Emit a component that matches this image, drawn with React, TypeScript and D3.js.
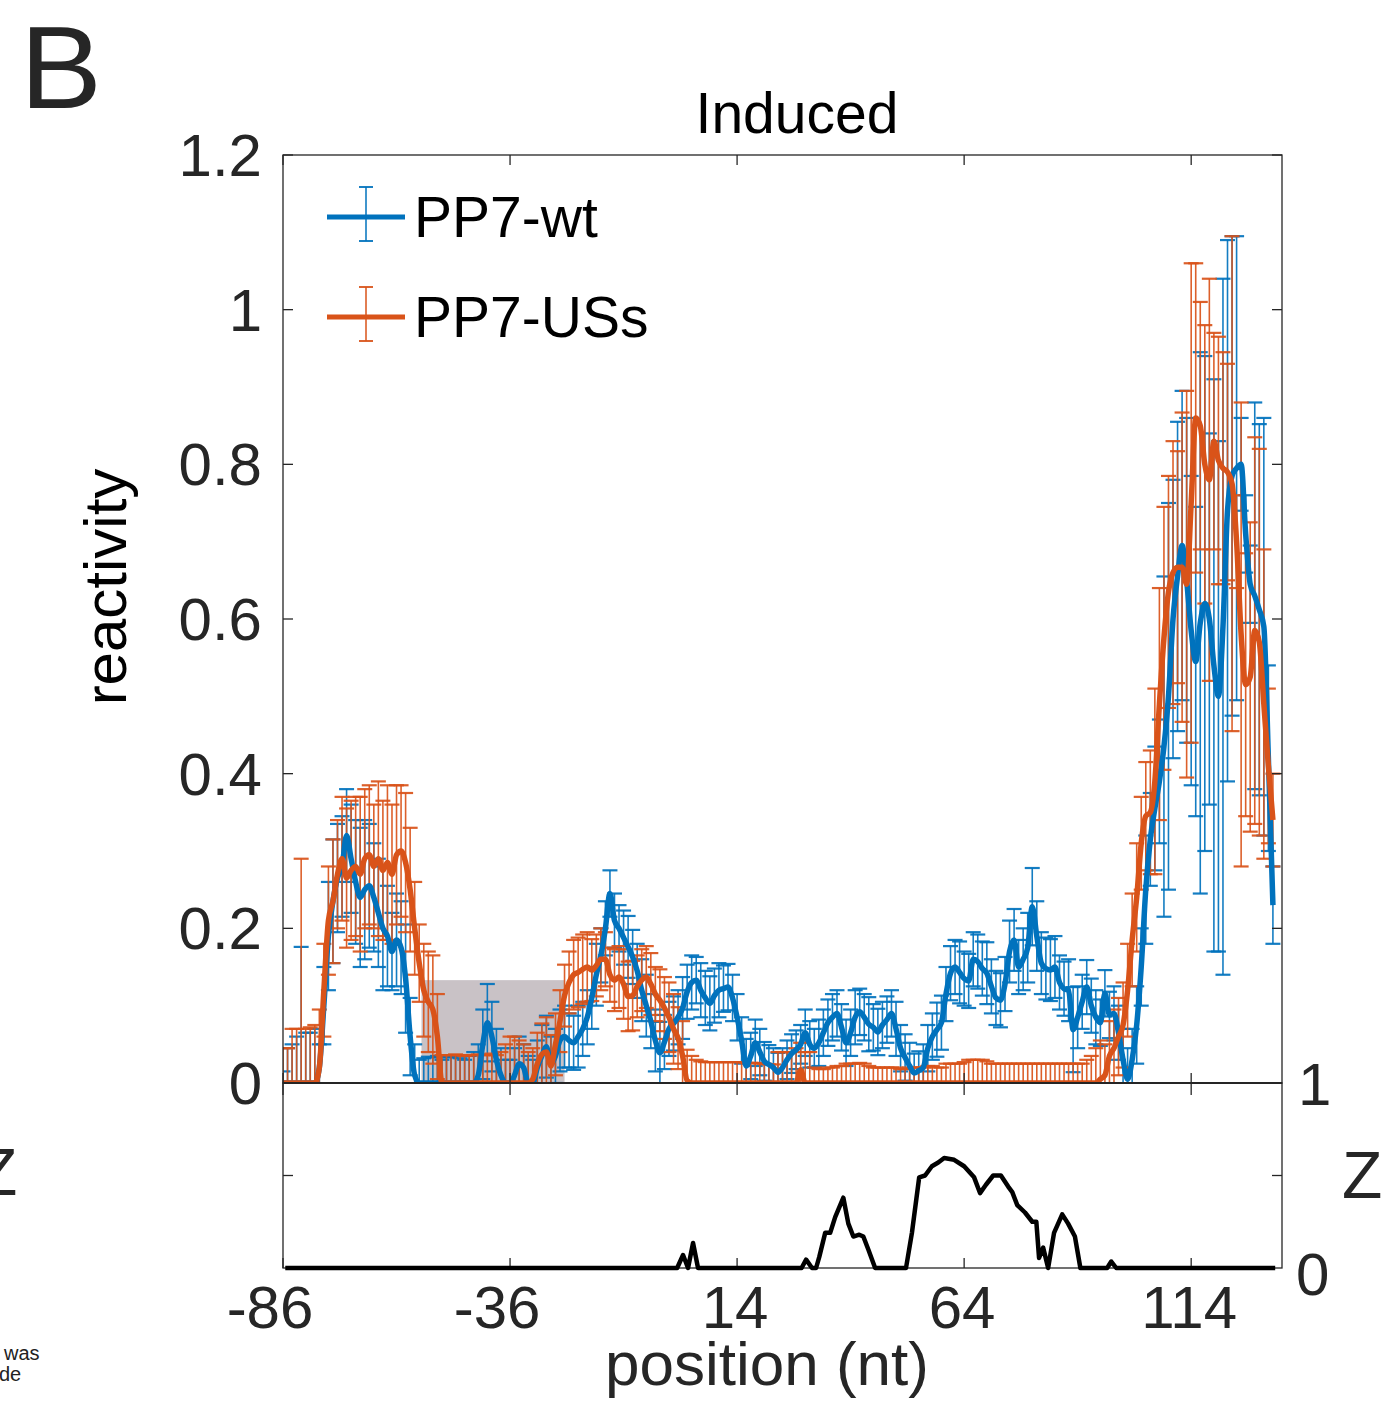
import React from "react";
import * as d3 from "d3";

// ---------- data ----------
const positions = d3.range(-86, 133); // nucleotide positions -86..132
const xTicks = [-86, -36, 14, 64, 114];
const yTicks = [0, 0.2, 0.4, 0.6, 0.8, 1, 1.2];
const yTickLabels = ["0", "0.2", "0.4", "0.6", "0.8", "1", "1.2"];

// PP7-wt smoothed reactivity
const wtLine = [
  0, 0, 0, 0, 0, 0, 0, 0,
  0.02, 0.1, 0.19, 0.235, 0.265, 0.28, 0.32, 0.29, 0.26, 0.24, 0.25, 0.255, 0.24, 0.22, 0.2, 0.19, 0.17, 0.185, 0.175, 0.135, 0.06, 0.01,
  0, 0, 0, 0, 0, 0, 0, 0, 0, 0, 0, 0, 0,
  0.01, 0.05, 0.078, 0.06, 0.03, 0.01, 0, 0, 0.01, 0.025, 0.02, 0,
  0, 0.02, 0.035, 0.047, 0.025, 0.035, 0.055, 0.06, 0.055, 0.052, 0.06,
  0.07, 0.085, 0.11, 0.14, 0.165, 0.2, 0.245, 0.21, 0.2, 0.188, 0.176, 0.163, 0.145, 0.12, 0.1, 0.08,
  0.055, 0.039, 0.053, 0.07, 0.077, 0.085, 0.097, 0.118,
  0.13, 0.133, 0.12, 0.11, 0.103, 0.113, 0.12, 0.122, 0.124, 0.11,
  0.085, 0.055, 0.022, 0.035, 0.052, 0.04, 0.028, 0.024, 0.02, 0.014,
  0.02, 0.03, 0.038, 0.043, 0.05, 0.065, 0.05, 0.045, 0.052, 0.065,
  0.078, 0.085, 0.09,
  0.072, 0.052, 0.065, 0.085, 0.092, 0.085, 0.076, 0.072, 0.066, 0.075,
  0.082, 0.09, 0.07, 0.045, 0.033, 0.022, 0.013, 0.016, 0.02, 0.045,
  0.06, 0.069, 0.078, 0.115, 0.142, 0.15, 0.143, 0.135, 0.132, 0.16,
  0.157, 0.148, 0.142, 0.125, 0.11, 0.107, 0.128, 0.17, 0.185, 0.15,
  0.16, 0.175, 0.228, 0.19, 0.155, 0.148, 0.146, 0.15, 0.13, 0.122,
  0.12, 0.069, 0.085, 0.105, 0.124, 0.1, 0.085, 0.078, 0.116, 0.088, 0.09, 0.065, 0.03,
  0.005, 0.03, 0.075, 0.15, 0.25, 0.315, 0.355, 0.39, 0.435, 0.5,
  0.6, 0.655, 0.695, 0.65, 0.585, 0.545, 0.595, 0.62, 0.6, 0.54,
  0.5, 0.59, 0.74, 0.785, 0.795, 0.8, 0.71, 0.645, 0.63, 0.612,
  0.59, 0.42, 0.23,
];

// PP7-wt error (half width)
const wtErr = [
  0.015, 0.045, 0.05, 0.06, 0.176, 0.065, 0.065, 0.07,
  0.03, 0.05, 0.07, 0.08, 0.07, 0.065, 0.06, 0.07, 0.08, 0.09, 0.09, 0.08, 0.07, 0.07, 0.08, 0.065, 0.05, 0.06, 0.06, 0.07, 0.05, 0.04,
  0.03, 0.032, 0.034, 0.033, 0.035, 0.03, 0.033, 0.034, 0.035, 0.032, 0.03, 0.035, 0.04,
  0.04, 0.045, 0.05, 0.045, 0.04, 0.035, 0.03, 0.03, 0.035, 0.035, 0.03, 0.035,
  0.03, 0.035, 0.04, 0.04, 0.035, 0.035, 0.04, 0.04, 0.035, 0.035, 0.04,
  0.035, 0.035, 0.04, 0.04, 0.035, 0.035, 0.03, 0.035, 0.03, 0.035, 0.04, 0.035, 0.035, 0.04, 0.04, 0.035,
  0.04, 0.04, 0.035, 0.035, 0.035, 0.035, 0.04, 0.035,
  0.035, 0.03, 0.035, 0.035, 0.035, 0.035, 0.035, 0.03, 0.03, 0.03,
  0.03, 0.03, 0.035, 0.03, 0.03, 0.03, 0.025, 0.025, 0.025, 0.025,
  0.025, 0.025, 0.025, 0.025, 0.025, 0.03, 0.03, 0.025, 0.03, 0.03,
  0.03, 0.03, 0.03,
  0.03, 0.03, 0.03, 0.035, 0.03, 0.03, 0.035, 0.03, 0.03, 0.03,
  0.03, 0.03, 0.035, 0.03, 0.03, 0.03, 0.025, 0.025, 0.03, 0.03,
  0.03, 0.035, 0.035, 0.035, 0.035, 0.035, 0.04, 0.035, 0.035, 0.035,
  0.035, 0.035, 0.04, 0.035, 0.035, 0.035, 0.035, 0.04, 0.04, 0.035,
  0.04, 0.045, 0.05, 0.045, 0.04, 0.04, 0.04, 0.04, 0.035, 0.035,
  0.04, 0.055, 0.04, 0.035, 0.035, 0.035, 0.035, 0.03, 0.03, 0.03, 0.035, 0.035, 0.04,
  0.04, 0.04, 0.05, 0.05, 0.07, 0.06, 0.08, 0.08, 0.22, 0.25,
  0.18, 0.2, 0.2, 0.21, 0.2, 0.2, 0.35, 0.32, 0.24, 0.37,
  0.33, 0.45, 0.35, 0.31, 0.3, 0.06, 0.05, 0.05, 0.25, 0.24,
  0.27, 0.12, 0.05,
];

// PP7-USs smoothed reactivity
const ussLine = [
  0, 0, 0, 0, 0, 0, 0, 0,
  0.02, 0.12, 0.21, 0.235, 0.27, 0.29, 0.265, 0.275, 0.28, 0.27, 0.29, 0.295, 0.28, 0.29, 0.275, 0.285, 0.27, 0.295, 0.3, 0.285, 0.25, 0.2, 0.155, 0.12, 0.105, 0.095, 0.06, 0,
  0, 0, 0, 0, 0, 0, 0, 0, 0, 0, 0, 0, 0, 0, 0, 0, 0, 0, 0,
  0.005, 0.025, 0.037, 0.04, 0.022, 0.05, 0.08, 0.113, 0.13, 0.14, 0.143,
  0.147, 0.15, 0.146, 0.152, 0.16, 0.16, 0.14, 0.133, 0.137, 0.128,
  0.112, 0.113, 0.125, 0.133, 0.137, 0.128, 0.115, 0.107, 0.097, 0.085,
  0.07, 0.058, 0.035, 0.003,
  0, 0, 0, 0, 0, 0, 0, 0, 0, 0,
  0, 0, 0, 0, 0, 0, 0, 0, 0, 0,
  0, 0, 0, 0, 0.017, 0, 0, 0, 0, 0,
  0, 0, 0, 0, 0, 0, 0, 0, 0, 0,
  0, 0, 0, 0, 0, 0, 0, 0, 0, 0,
  0, 0, 0, 0, 0, 0, 0, 0, 0, 0,
  0, 0, 0, 0, 0, 0, 0, 0, 0, 0,
  0, 0, 0, 0, 0, 0, 0, 0, 0, 0,
  0, 0, 0, 0, 0, 0, 0, 0, 0, 0,
  0.005,
  0.01, 0.035, 0.045, 0.06, 0.075, 0.12, 0.185, 0.24, 0.31, 0.345,
  0.35, 0.39, 0.49, 0.575, 0.635, 0.66, 0.667, 0.667, 0.645, 0.75,
  0.86, 0.85, 0.8, 0.78, 0.83, 0.805, 0.795, 0.79, 0.775, 0.7,
  0.58, 0.515, 0.525, 0.585, 0.57, 0.49, 0.41, 0.34,
];

// PP7-USs error (half width)
const ussErr = [
  0.045, 0.045, 0.07, 0.07, 0.29, 0.07, 0.072, 0.075,
  0.075, 0.06, 0.07, 0.08, 0.07, 0.08, 0.09, 0.09, 0.09, 0.1,
  0.09, 0.09, 0.08, 0.1, 0.09, 0.1, 0.09, 0.09, 0.085, 0.09,
  0.08, 0.06, 0.05, 0.06, 0.065, 0.07, 0.055, 0.036,
  0.036, 0.036, 0.037, 0.036, 0.035, 0.036, 0.036, 0.037, 0.036, 0.036, 0.038, 0.036, 0.04, 0.05, 0.06, 0.06, 0.055, 0.05, 0.04,
  0.04, 0.04, 0.04, 0.045, 0.04, 0.04, 0.04, 0.04, 0.04, 0.045, 0.045,
  0.045, 0.045, 0.04, 0.04, 0.04, 0.035, 0.035, 0.04, 0.04, 0.045,
  0.045, 0.045, 0.04, 0.04, 0.04, 0.04, 0.035, 0.04, 0.04, 0.045,
  0.045, 0.04, 0.045, 0.04,
  0.035, 0.03, 0.028, 0.027, 0.027, 0.027, 0.027, 0.027, 0.027, 0.027,
  0.027, 0.027, 0.026, 0.026, 0.026, 0.025, 0.025, 0.024, 0.024, 0.04,
  0.04, 0.04, 0.04, 0.045, 0.035, 0.04, 0.04, 0.02, 0.018, 0.018,
  0.02, 0.02, 0.022, 0.022, 0.025, 0.025, 0.025, 0.026, 0.025, 0.022,
  0.02, 0.02, 0.02, 0.02, 0.02, 0.02, 0.018, 0.018, 0.02, 0.02,
  0.02, 0.02, 0.022, 0.022, 0.02, 0.02, 0.025, 0.025, 0.025, 0.025,
  0.027, 0.03, 0.03, 0.03, 0.03, 0.028, 0.025, 0.025, 0.025, 0.025,
  0.025, 0.025, 0.025, 0.025, 0.025, 0.025, 0.025, 0.025, 0.025, 0.025,
  0.025, 0.025, 0.025, 0.025, 0.025, 0.025, 0.025, 0.03, 0.035, 0.045,
  0.05,
  0.04, 0.045, 0.05, 0.05, 0.055, 0.06, 0.06, 0.07, 0.06, 0.07,
  0.08, 0.12, 0.15, 0.17, 0.15, 0.17, 0.15, 0.2, 0.25, 0.31,
  0.2, 0.16, 0.18, 0.26, 0.14, 0.16, 0.15, 0.14, 0.32, 0.06,
  0.3, 0.17, 0.2, 0.25, 0.25, 0.2, 0.1, 0.06,
];

// Z score trace (breakpoints: position, value)
const zPos = [
  -85.5, 0.8, 2.1, 3.2, 4.3, 5.4, 28.2, 29.2, 30.5, 31.4, 32.1, 33.4, 34.5, 35.6, 37.4, 38.5, 39.6, 40.9, 41.8, 42.9, 44.4,
  51.2, 52.5, 54.1, 55.4, 56.9, 58.3, 59.6, 61.8, 64, 66.2, 67.5, 68.8, 70.4, 72.1, 73.7, 74.6, 75.7, 77.4, 79, 79.9,
  80.5, 81.4, 82.5, 83.8, 85.6, 86.9, 88.4, 89.6, 95.5, 96.4, 97.5, 132.5,
];
const zVal = [
  0, 0, 0.07, 0, 0.135, 0, 0, 0.045, 0, 0, 0.06, 0.19, 0.19, 0.275, 0.38, 0.24, 0.17, 0.18, 0.17, 0.1, 0,
  0, 0.19, 0.49, 0.5, 0.55, 0.57, 0.595, 0.585, 0.55, 0.49, 0.405, 0.45, 0.5, 0.5, 0.44, 0.41, 0.34, 0.3, 0.25, 0.25,
  0.054, 0.11, 0, 0.19, 0.29, 0.24, 0.17, 0, 0, 0.035, 0, 0,
];

// shaded region (positions) and height
const shadeRange = [-55.5, -24];
const shadeTop = 0.133;

const series = [
  { name: "PP7-wt", color: "#0072BD", line: wtLine, err: wtErr },
  { name: "PP7-USs", color: "#D95319", line: ussLine, err: ussErr },
];

const FONT = "'Liberation Sans', Arial, Helvetica, sans-serif";
const AX = "#262626";

export default function App() {
  const W = 1393;
  const H = 1404;
  const L = 283, R = 1282, T = 155, B = 1083, ZB = 1268;
  const x = d3.scaleLinear().domain([-86, 134]).range([L, R]);
  const y = d3.scaleLinear().domain([0, 1.2]).range([B, T]);
  const yz = d3.scaleLinear().domain([0, 1]).range([ZB, B]);

  const mkLine = (vals: number[]) =>
    d3
      .line<number>()
      .x((_, i) => x(positions[i]))
      .y((d) => y(d))
      .curve(d3.curveMonotoneX)(vals) || "";

  const zPath =
    d3
      .line<number>()
      .x((_, i) => x(zPos[i]))
      .y((d) => yz(d))(zVal) || "";

  const cap = 7.5;
  const tickLen = 10;

  return (
    <div style={{ position: "absolute", left: 0, top: 0, width: W, height: H, background: "#fff" }}>
      <svg width={W} height={H} viewBox={`0 0 ${W} ${H}`} style={{ display: "block" }}>
        <defs>
          <clipPath id="mainClip">
            <rect x={L} y={T} width={R - L} height={B - T} />
          </clipPath>
        </defs>
        <rect x={0} y={0} width={W} height={H} fill="#fff" />

        {/* panel letter and neighbour fragments */}
        <text x={20} y={108} fontFamily={FONT} fontSize={116} fill={AX} transform="translate(20,0) scale(1.06,1) translate(-20,0)">B</text>
        <text x={-23} y={1195} fontFamily={FONT} fontSize={66} fill={AX}>Z</text>
        <text x={1342} y={1198} fontFamily={FONT} fontSize={66} fill={AX}>Z</text>
        <text x={4} y={1360} fontFamily={FONT} fontSize={20} fill="#222">was</text>
        <text x={-1} y={1381} fontFamily={FONT} fontSize={20} fill="#222">de</text>

        {/* title */}
        <text x={797} y={133} textAnchor="middle" fontFamily={FONT} fontSize={57} fill="#000">Induced</text>

        {/* shaded box */}
        <rect
          x={x(shadeRange[0])}
          y={y(shadeTop)}
          width={x(shadeRange[1]) - x(shadeRange[0])}
          height={y(0) - y(shadeTop)}
          fill="#c9c2c6"
        />

        {/* error bars and lines */}
        <g clipPath="url(#mainClip)">
          {series.map((s) => (
            <g key={s.name} stroke={s.color} strokeOpacity={0.92}>
              {positions.map((p, i) => {
                const xc = x(p);
                const top = y(s.line[i] + s.err[i]);
                const bot = y(s.line[i] - s.err[i]);
                return (
                  <g key={i}>
                    <line x1={xc} x2={xc} y1={top} y2={bot} strokeWidth={1.6} />
                    <line x1={xc - cap} x2={xc + cap} y1={top} y2={top} strokeWidth={2.2} />
                    <line x1={xc - cap} x2={xc + cap} y1={bot} y2={bot} strokeWidth={2.2} />
                  </g>
                );
              })}
            </g>
          ))}
          {series.map((s) => (
            <path key={s.name} d={mkLine(s.line)} fill="none" stroke={s.color} strokeWidth={5.5} strokeLinejoin="round" />
          ))}
        </g>

        {/* main axes box */}
        <g stroke={AX} strokeWidth={1.3} fill="none">
          <rect x={L} y={T} width={R - L} height={B - T} />
          {yTicks.map((t) => (
            <g key={t}>
              <line x1={L} x2={L + tickLen} y1={y(t)} y2={y(t)} />
              <line x1={R} x2={R - tickLen} y1={y(t)} y2={y(t)} />
            </g>
          ))}
          {xTicks.map((t) => (
            <g key={t}>
              <line x1={x(t)} x2={x(t)} y1={T} y2={T + tickLen} />
              <line x1={x(t)} x2={x(t)} y1={B} y2={B - tickLen} />
            </g>
          ))}
        </g>
        <line x1={L} x2={R} y1={B} y2={B} stroke={AX} strokeWidth={2.2} />

        {/* y tick labels */}
        {yTicks.map((t, i) => (
          <text key={t} x={262} y={y(t) + 21} textAnchor="end" fontFamily={FONT} fontSize={60} fill={AX}>
            {yTickLabels[i]}
          </text>
        ))}

        {/* y label */}
        <text
          transform={`translate(126,587) rotate(-90)`}
          textAnchor="middle"
          fontFamily={FONT}
          fontSize={60}
          fill="#000"
        >
          reactivity
        </text>

        {/* legend */}
        {series.map((s, k) => {
          const ly = 217 + k * 100;
          return (
            <g key={s.name}>
              <line x1={327} x2={405} y1={ly} y2={ly} stroke={s.color} strokeWidth={5} />
              <line x1={366} x2={366} y1={ly - 30} y2={ly + 24} stroke={s.color} strokeWidth={1.5} />
              <line x1={359} x2={373} y1={ly - 30} y2={ly - 30} stroke={s.color} strokeWidth={1.8} />
              <line x1={359} x2={373} y1={ly + 24} y2={ly + 24} stroke={s.color} strokeWidth={1.8} />
              <text x={414} y={ly + 20} fontFamily={FONT} fontSize={57} fill="#000">
                {s.name}
              </text>
            </g>
          );
        })}

        {/* bottom panel */}
        <g stroke={AX} strokeWidth={1.3} fill="none">
          <rect x={L} y={B} width={R - L} height={ZB - B} />
          <line x1={L} x2={L + tickLen} y1={yz(0.5)} y2={yz(0.5)} />
          <line x1={R} x2={R - tickLen} y1={yz(0.5)} y2={yz(0.5)} />
          {xTicks.map((t) => (
            <g key={t}>
              <line x1={x(t)} x2={x(t)} y1={B} y2={B + tickLen + 2} />
              <line x1={x(t)} x2={x(t)} y1={ZB} y2={ZB - tickLen} />
            </g>
          ))}
        </g>
        <path d={zPath} fill="none" stroke="#000" strokeWidth={4.5} strokeLinejoin="round" />

        {/* z labels */}
        <text x={1298} y={yz(1) + 22} fontFamily={FONT} fontSize={60} fill={AX}>1</text>
        <text x={1296} y={yz(0) + 27} fontFamily={FONT} fontSize={60} fill={AX}>0</text>

        {/* x tick labels */}
        {xTicks.map((t) => (
          <text
            key={t}
            x={x(t) - (t < 0 ? 13 : 2)}
            y={1328}
            textAnchor="middle"
            fontFamily={FONT}
            fontSize={60}
            fill={AX}
          >
            {String(t)}
          </text>
        ))}

        {/* x label */}
        <text x={767} y={1385} textAnchor="middle" fontFamily={FONT} fontSize={62} fill={AX}>
          position (nt)
        </text>
      </svg>
    </div>
  );
}
